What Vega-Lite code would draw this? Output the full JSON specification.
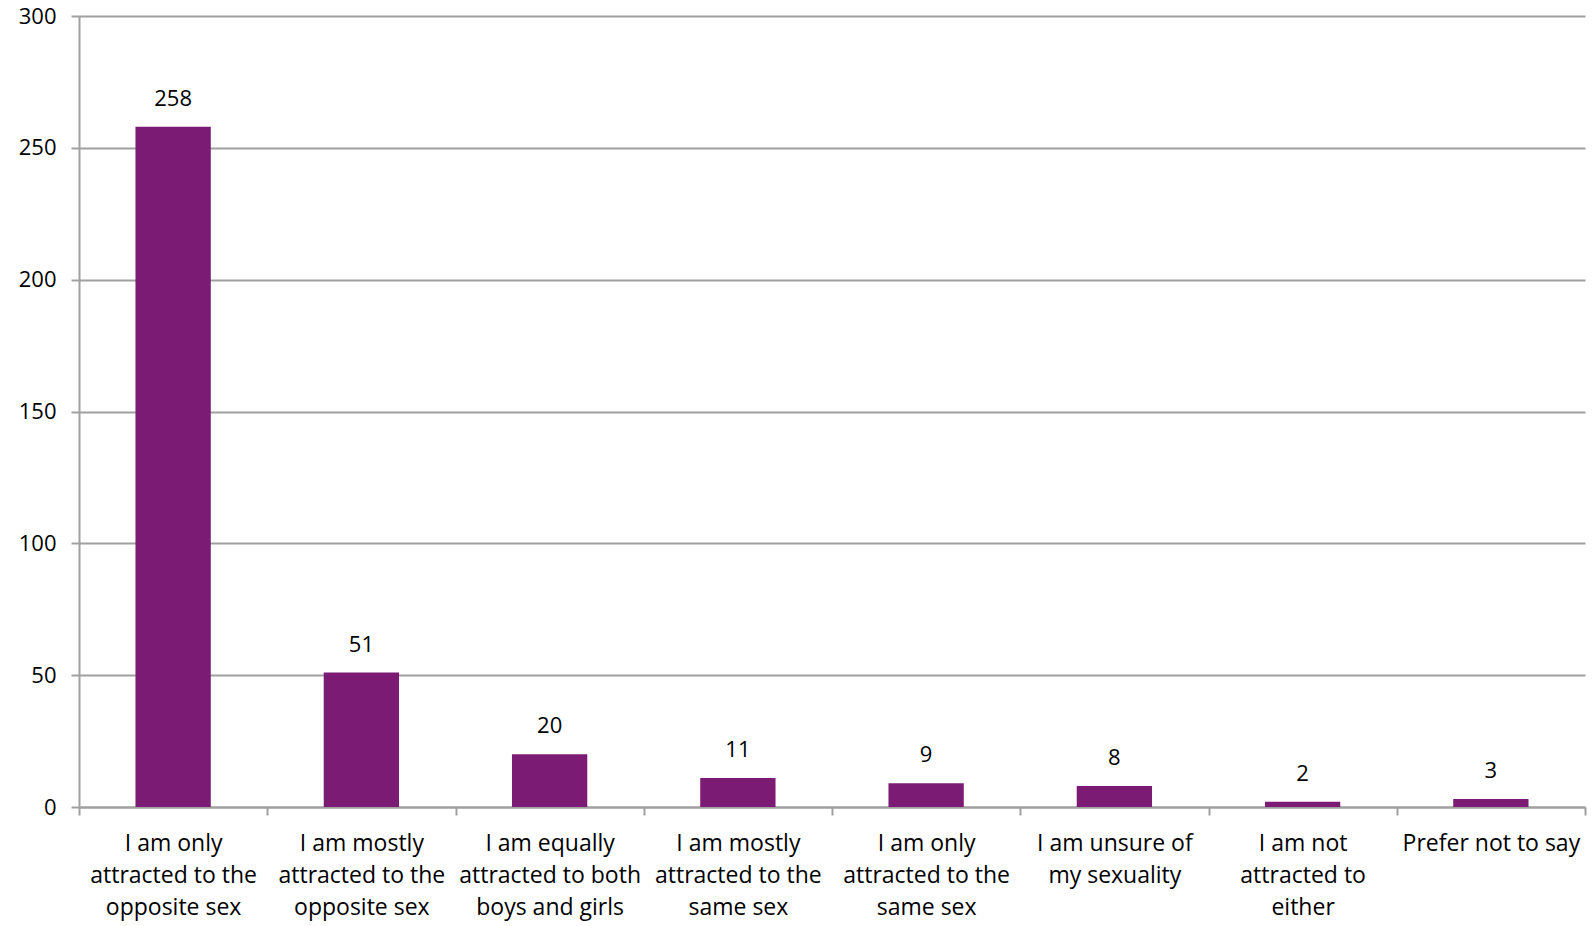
{
  "$schema": "https://vega.github.io/schema/vega-lite/v6.json",
  "width": 1506,
  "height": 791,
  "autosize": "none",
  "padding": {"left": 79, "top": 16, "right": 7, "bottom": 119},
  "background": "white",
  "config": {
    "view": {"stroke": null},
    "font": "Open Sans"
  },
  "data": {
    "values": [
      {"category": "I am only|attracted to the|opposite sex", "count": 258},
      {"category": "I am mostly|attracted to the|opposite sex", "count": 51},
      {"category": "I am equally|attracted to both|boys and girls", "count": 20},
      {"category": "I am mostly|attracted to the|same sex", "count": 11},
      {"category": "I am only|attracted to the|same sex", "count": 9},
      {"category": "I am unsure of|my sexuality", "count": 8},
      {"category": "I am not|attracted to|either", "count": 2},
      {"category": "Prefer not to say", "count": 3}
    ]
  },
  "encoding": {
    "x": {
      "field": "category",
      "type": "nominal",
      "sort": null,
      "scale": {"paddingInner": 0, "paddingOuter": 0},
      "axis": {
        "title": null,
        "labelAngle": 0,
        "labelExpr": "split(datum.label, '|')",
        "labelFont": "Open Sans",
        "labelFontSize": 23,
        "labelColor": "#000000",
        "labelLineHeight": 32,
        "labelPadding": 17,
        "labelBaseline": "top",
        "labelLimit": 0,
        "labelOverlap": false,
        "tickBand": "extent",
        "tickColor": "#a0a0a0",
        "tickWidth": 2,
        "tickSize": 8,
        "domainColor": "#a0a0a0",
        "domainWidth": 2,
        "grid": false
      }
    },
    "y": {
      "field": "count",
      "type": "quantitative",
      "scale": {"domain": [0, 300], "nice": false},
      "axis": {
        "title": null,
        "values": [0, 50, 100, 150, 200, 250, 300],
        "labelFont": "Open Sans",
        "labelFontSize": 22,
        "labelColor": "#000000",
        "labelPadding": 15,
        "tickColor": "#a0a0a0",
        "tickWidth": 2,
        "tickSize": 8,
        "domainColor": "#a0a0a0",
        "domainWidth": 2,
        "gridColor": "#a0a0a0",
        "gridWidth": 2
      }
    }
  },
  "layer": [
    {"mark": {"type": "bar", "color": "#7b1b74", "width": {"band": 0.4}}},
    {
      "mark": {"type": "text", "baseline": "bottom", "dy": -16, "fontSize": 22, "font": "Open Sans", "color": "#000000"},
      "encoding": {"text": {"field": "count", "type": "quantitative"}}
    }
  ]
}
